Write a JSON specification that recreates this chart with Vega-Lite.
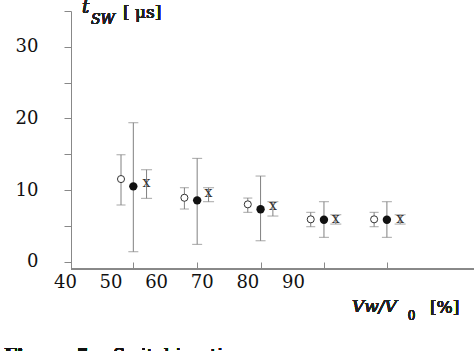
{
  "$schema": "https://vega.github.io/schema/vega-lite/v6.json",
  "autosize": {"type": "none"},
  "padding": {"left": 50, "top": 11, "right": 0, "bottom": 82},
  "width": 424,
  "height": 258,
  "background": "white",
  "config": {"view": {"stroke": null}},
  "data": {"values": [
    {"s": "open", "x": 52.3, "y": 11.55, "lo": 7.93, "hi": 14.94},
    {"s": "open", "x": 66.2, "y": 8.94, "lo": 7.37, "hi": 10.34},
    {"s": "open", "x": 80.1, "y": 8.02, "lo": 6.91, "hi": 8.9},
    {"s": "open", "x": 93.9, "y": 5.93, "lo": 4.9, "hi": 6.91},
    {"s": "open", "x": 107.8, "y": 5.93, "lo": 4.9, "hi": 6.91},
    {"s": "filled", "x": 55.0, "y": 10.53, "lo": 1.41, "hi": 19.41},
    {"s": "filled", "x": 69.0, "y": 8.58, "lo": 2.44, "hi": 14.44},
    {"s": "filled", "x": 82.9, "y": 7.33, "lo": 2.94, "hi": 11.97},
    {"s": "filled", "x": 96.8, "y": 5.87, "lo": 3.42, "hi": 8.39},
    {"s": "filled", "x": 110.6, "y": 5.87, "lo": 3.42, "hi": 8.39},
    {"s": "cross", "x": 57.9, "y": 10.9, "lo": 8.86, "hi": 12.85},
    {"s": "cross", "x": 71.5, "y": 9.42, "lo": 8.39, "hi": 10.34},
    {"s": "cross", "x": 85.6, "y": 7.69, "lo": 6.39, "hi": 8.39},
    {"s": "cross", "x": 99.4, "y": 5.87, "lo": 5.27, "hi": 6.57},
    {"s": "cross", "x": 113.5, "y": 5.87, "lo": 5.27, "hi": 6.57}
  ]},
  "encoding": {
    "x": {"field": "x", "type": "quantitative",
      "scale": {"domain": [36.73, 129.7], "nice": false, "zero": false},
      "axis": {
        "title": null,
        "values": [40, 50, 60, 70, 80, 90, 55, 69, 83, 96.8, 110.6],
        "labelExpr": "datum.value % 10 == 0 ? datum.label : ''",
        "tickOpacity": {"condition": {"test": "datum.value % 10 == 0", "value": 0}, "value": 1},
        "tickSize": -7,
        "tickColor": "#888",
        "domain": false,
        "labelFont": "DejaVu Serif",
        "labelFontSize": 18,
        "labelColor": "#111",
        "labelPadding": 11,
        "labelFlush": false,
        "labelOverlap": false,
        "grid": false
      }
    },
    "y": {"field": "y", "type": "quantitative",
      "scale": {"domain": [-1, 35], "nice": false, "zero": false},
      "axis": {
        "title": null,
        "offset": -21,
        "values": [0, 5, 10, 15, 20, 25, 30, 35],
        "labelExpr": "datum.value % 10 == 0 && datum.value < 35 ? datum.label : ''",
        "tickSize": 7,
        "tickColor": "#888",
        "domainColor": "#888",
        "labelFont": "DejaVu Serif",
        "labelFontSize": 18,
        "labelColor": "#111",
        "labelPadding": 26,
        "labelFlush": false,
        "labelOverlap": false,
        "grid": false
      }
    }
  },
  "layer": [
    {"mark": {"type": "rule", "color": "#888", "strokeWidth": 1},
     "encoding": {"x": {"datum": 41.34}, "x2": {"datum": 129.7}, "y": {"datum": -1}}},
    {"mark": {"type": "rule", "color": "#808080", "strokeWidth": 1},
     "encoding": {"y": {"field": "lo", "type": "quantitative"}, "y2": {"field": "hi"}}},
    {"mark": {"type": "tick", "color": "#808080", "thickness": 1, "orient": "horizontal"},
     "encoding": {"y": {"field": "hi", "type": "quantitative"},
       "size": {"field": "s", "type": "nominal", "scale": {"domain": ["open", "filled", "cross"], "range": [9, 11, 12]}, "legend": null}}},
    {"mark": {"type": "tick", "color": "#808080", "thickness": 1, "orient": "horizontal"},
     "encoding": {"y": {"field": "lo", "type": "quantitative"},
       "size": {"field": "s", "type": "nominal", "scale": {"domain": ["open", "filled", "cross"], "range": [9, 11, 12]}, "legend": null}}},
    {"transform": [{"filter": "datum.s == 'open'"}],
     "mark": {"type": "point", "shape": "circle", "filled": true, "fill": "white", "stroke": "#333", "strokeWidth": 1, "size": 50, "opacity": 1}},
    {"transform": [{"filter": "datum.s == 'filled'"}],
     "mark": {"type": "point", "shape": "circle", "filled": true, "color": "#111", "size": 70, "opacity": 1}},
    {"transform": [{"filter": "datum.s == 'cross'"}],
     "mark": {"type": "text", "text": "x", "font": "DejaVu Serif", "fontSize": 14, "color": "#333", "align": "center", "baseline": "middle", "dy": -1}},
    {"mark": {"type": "text", "text": "t", "font": "DejaVu Serif", "fontStyle": "italic", "fontSize": 18, "align": "left", "baseline": "alphabetic", "color": "#222"},
     "encoding": {"x": {"datum": 43.75}, "y": {"datum": 34.72}}},
    {"mark": {"type": "text", "text": "SW", "font": "DejaVu Serif", "fontStyle": "italic", "fontSize": 14, "align": "left", "baseline": "alphabetic", "color": "#222"},
     "encoding": {"x": {"datum": 45.72}, "y": {"datum": 33.18}}},
    {"mark": {"type": "text", "text": "[ μs]", "font": "DejaVu Serif", "fontSize": 17, "align": "left", "baseline": "alphabetic", "color": "#222"},
     "encoding": {"x": {"datum": 52.74}, "y": {"datum": 34.02}}},
    {"mark": {"type": "text", "text": "Vw/V", "font": "DejaVu Serif", "fontStyle": "italic", "fontSize": 17, "align": "left", "baseline": "alphabetic", "color": "#222"},
     "encoding": {"x": {"datum": 102.95}, "y": {"datum": -7.0}}},
    {"mark": {"type": "text", "text": "0", "font": "DejaVu Serif", "fontSize": 12, "align": "left", "baseline": "alphabetic", "color": "#222"},
     "encoding": {"x": {"datum": 115.2}, "y": {"datum": -8.12}}},
    {"mark": {"type": "text", "text": "[%]", "font": "DejaVu Serif", "fontSize": 17, "align": "left", "baseline": "alphabetic", "color": "#222"},
     "encoding": {"x": {"datum": 120.05}, "y": {"datum": -7.2}}},
    {"mark": {"type": "text", "text": "Figure 5.", "font": "DejaVu Serif", "fontWeight": "bold", "fontSize": 18, "align": "left", "baseline": "alphabetic", "color": "#111"},
     "encoding": {"x": {"datum": 26.65}, "y": {"datum": -14.0}}},
    {"mark": {"type": "text", "text": "Switching time", "font": "DejaVu Serif", "fontSize": 18, "align": "left", "baseline": "alphabetic", "color": "#111"},
     "encoding": {"x": {"datum": 50.55}, "y": {"datum": -14.0}}}
  ]
}
